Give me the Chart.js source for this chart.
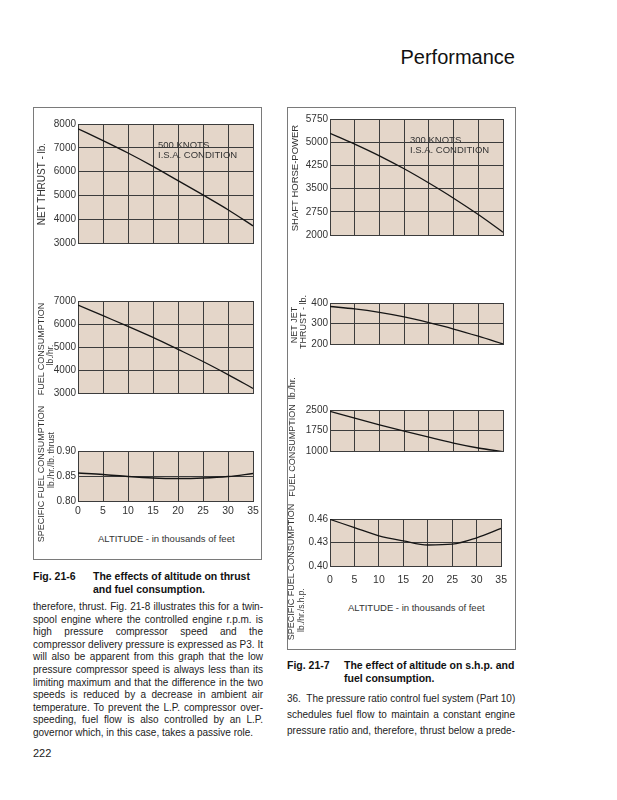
<!DOCTYPE html>
<html>
<head>
<meta charset="utf-8">
<script src="https://cdn.jsdelivr.net/npm/chart.js@4"></script>
<style>
  body { margin: 0; background: #fff; font-family: "Liberation Sans", Arial, sans-serif; color: #222; }
  #page { position: relative; width: 617px; height: 800px; overflow: hidden; }
  canvas { position: absolute; }
  .t { position: absolute; white-space: nowrap; }
  .rot { position: absolute; white-space: nowrap; transform: translate(-50%, -50%) rotate(-90deg); font-size: 9px; color: #333; }
  .box { position: absolute; border: 1px solid #7a7a7a; }
  .ann { position: absolute; font-size: 9.5px; line-height: 10px; color: #333; white-space: nowrap; }
  .cap { position: absolute; font-weight: bold; font-size: 10.5px; line-height: 12.5px; color: #111; white-space: nowrap; }
  .body { position: absolute; font-size: 10px; line-height: 12.6px; color: #222; }
  .body div { text-align: justify; text-align-last: justify; white-space: nowrap; }
  .body div.last { text-align-last: left; }
</style>
</head>
<body>
<div id="page">
  <div class="t" style="right:102px; top:46px; font-size:20px; color:#111;">Performance</div>

  <div class="box" style="left:33px; top:107px; width:227px; height:451px;"></div>
  <div class="box" style="left:287px; top:107px; width:227px; height:541px;"></div>

  <canvas id="c1"></canvas>
  <canvas id="c2"></canvas>
  <canvas id="c3"></canvas>
  <canvas id="c4"></canvas>
  <canvas id="c5"></canvas>
  <canvas id="c6"></canvas>
  <canvas id="c7"></canvas>

  <!-- left axis titles -->
  <div class="rot" style="left:41px; top:184px; font-size:10px;">NET THRUST - lb.</div>
  <div class="rot" style="left:41px; top:349px;">FUEL CONSUMPTION</div>
  <div class="rot" style="left:50px; top:355px; font-size:8.5px;">lb./hr.</div>
  <div class="rot" style="left:41px; top:474px;">SPECIFIC FUEL CONSUMPTION</div>
  <div class="rot" style="left:51px; top:460px; font-size:8.5px;">lb./hr./lb. thrust</div>

  <!-- right axis titles -->
  <div class="rot" style="left:294px; top:178px; font-size:9.5px;">SHAFT HORSE-POWER</div>
  <div class="rot" style="left:294px; top:325px;">NET JET</div>
  <div class="rot" style="left:303px; top:322px;">THRUST - lb.</div>
  <div class="rot" style="left:292px; top:437px;">FUEL CONSUMPTION&nbsp; lb./hr.</div>
  <div class="rot" style="left:291px; top:572px;">SPECIFIC FUEL CONSUMPTION</div>
  <div class="rot" style="left:301px; top:610px; font-size:8.5px;">lb./hr./s.h.p.</div>

  <div class="ann" style="left:158px; top:140px;">500 KNOTS<br>I.S.A. CONDITION</div>
  <div class="ann" style="left:410px; top:135px;">300 KNOTS<br>I.S.A. CONDITION</div>

  <div class="t" style="left:98px; top:533px; font-size:9.5px; color:#333;">ALTITUDE - in thousands of feet</div>
  <div class="t" style="left:348px; top:602px; font-size:9.5px; color:#333;">ALTITUDE - in thousands of feet</div>

  <div class="cap" style="left:33px; top:570px;">Fig. 21-6</div>
  <div class="cap" style="left:93px; top:570px;">The effects of altitude on thrust<br>and fuel consumption.</div>

  <div class="body" style="left:33px; top:601px; width:230px;">
    <div>therefore, thrust. Fig. 21-8 illustrates this for a twin-</div>
    <div>spool engine where the controlled engine r.p.m. is</div>
    <div>high pressure compressor speed and the</div>
    <div>compressor delivery pressure is expressed as P3. It</div>
    <div>will also be apparent from this graph that the low</div>
    <div>pressure compressor speed is always less than its</div>
    <div>limiting maximum and that the difference in the two</div>
    <div>speeds is reduced by a decrease in ambient air</div>
    <div>temperature. To prevent the L.P. compressor over-</div>
    <div>speeding, fuel flow is also controlled by an L.P.</div>
    <div class="last">governor which, in this case, takes a passive role.</div>
  </div>

  <div class="t" style="left:33px; top:747px; font-size:11px; color:#222;">222</div>

  <div class="cap" style="left:287px; top:659px;">Fig. 21-7</div>
  <div class="cap" style="left:344px; top:659px;">The effect of altitude on s.h.p. and<br>fuel consumption.</div>

  <div class="body" style="left:287px; top:691px; width:228px; line-height:16px;">
    <div>36.&nbsp; The pressure ratio control fuel system (Part 10)</div>
    <div>schedules fuel flow to maintain a constant engine</div>
    <div>pressure ratio and, therefore, thrust below a prede-</div>
  </div>
</div>

<script>
// altitude in thousands of feet
const altitudes = [0, 5, 10, 15, 20, 25, 30, 35];

// Fig 21-6 (500 knots)
const netThrust = [7800, 7300, 6780, 6220, 5620, 5020, 4400, 3720];
const fuelFlowJet = [6820, 6360, 5900, 5420, 4900, 4370, 3800, 3200];
const sfcThrust = [0.856, 0.853, 0.849, 0.846, 0.845, 0.846, 0.849, 0.855];

// Fig 21-7 (300 knots)
const shaftHp = [5290, 4940, 4560, 4140, 3680, 3190, 2660, 2090];
const netJetThrust = [383, 371, 354, 332, 304, 273, 238, 200];
const fuelFlowProp = [2450, 2200, 1960, 1730, 1505, 1290, 1110, 975];
const sfcShp = [0.4595, 0.449, 0.4385, 0.432, 0.4268, 0.4278, 0.436, 0.448];

// tick labels
const thrustTicks = [3000, 4000, 5000, 6000, 7000, 8000];
const fuelJetTicks = [3000, 4000, 5000, 6000, 7000];
const sfcThrustTicks = [0.80, 0.85, 0.90];
const shpTicks = [2000, 2750, 3500, 4250, 5000, 5750];
const jetThrustTicks = [200, 300, 400];
const fuelPropTicks = [1000, 1750, 2500];
const sfcShpTicks = [0.40, 0.43, 0.46];
const altTicks = [0, 5, 10, 15, 20, 25, 30, 35];

const plotBg = {
    id: 'plotBg',
    beforeDraw(chart) {
        const a = chart.chartArea;
        const ctx = chart.ctx;
        ctx.save();
        ctx.fillStyle = '#e4d6c9';
        ctx.fillRect(a.left, a.top, a.right - a.left, a.bottom - a.top);
        ctx.restore();
    }
};

// build one panel so its plot area lands on the given box
function createChart(id, box, values, ticks, decimals, showX, xPad) {
    const yW = 32, padT = 8, padR = 12, padB = 2;
    const xH = showX ? 24 : 0;
    const cv = document.getElementById(id);
    cv.width = box.r - box.l + yW + padR;
    cv.height = box.b - box.t + padT + xH + padB;
    cv.style.left = (box.l - yW) + 'px';
    cv.style.top = (box.t - padT) + 'px';

    new Chart(cv, {
        type: 'line',
        data: {
            datasets: [{
                data: altitudes.map((a, i) => ({ x: a, y: values[i] })),
                borderColor: '#151515',
                borderWidth: 1.3,
                pointRadius: 0,
                cubicInterpolationMode: 'monotone',
                fill: false
            }]
        },
        options: {
            responsive: false,
            animation: false,
            layout: { padding: { top: padT, right: padR, bottom: padB, left: 0 } },
            plugins: { legend: { display: false }, tooltip: { enabled: false } },
            scales: {
                x: {
                    type: 'linear',
                    min: altTicks[0],
                    max: altTicks[altTicks.length - 1],
                    afterBuildTicks: s => { s.ticks = altTicks.map(v => ({ value: v })); },
                    afterFit: s => { s.height = xH; },
                    grid: { color: '#3c3c3c', lineWidth: 1, drawTicks: false },
                    border: { display: true, color: '#3c3c3c' },
                    ticks: {
                        display: showX,
                        padding: xPad,
                        color: '#333',
                        font: { family: 'Liberation Sans', size: 10.5 }
                    }
                },
                y: {
                    min: ticks[0],
                    max: ticks[ticks.length - 1],
                    afterBuildTicks: s => { s.ticks = ticks.map(v => ({ value: v })); },
                    afterFit: s => { s.width = yW; },
                    grid: { color: '#3c3c3c', lineWidth: 1, drawTicks: false },
                    border: { display: true, color: '#3c3c3c' },
                    ticks: {
                        padding: 2,
                        color: '#333',
                        font: { family: 'Liberation Sans', size: 10 },
                        callback: v => v.toFixed(decimals)
                    }
                }
            }
        },
        plugins: [plotBg]
    });
}

createChart('c1', { l: 78, r: 253, t: 124, b: 249 }, netThrust, thrustTicks, 0, false, 0);
createChart('c2', { l: 78, r: 253, t: 301, b: 399 }, fuelFlowJet, fuelJetTicks, 0, false, 0);
createChart('c3', { l: 78, r: 253, t: 451, b: 501 }, sfcThrust, sfcThrustTicks, 2, true, 4);
createChart('c4', { l: 330, r: 503, t: 119, b: 241 }, shaftHp, shpTicks, 0, false, 0);
createChart('c5', { l: 330, r: 503, t: 303, b: 350 }, netJetThrust, jetThrustTicks, 0, false, 0);
createChart('c6', { l: 330, r: 503, t: 410, b: 457 }, fuelFlowProp, fuelPropTicks, 0, false, 0);
createChart('c7', { l: 330, r: 503, t: 519, b: 566 }, sfcShp, sfcShpTicks, 2, true, 8);
</script>
</body>
</html>
